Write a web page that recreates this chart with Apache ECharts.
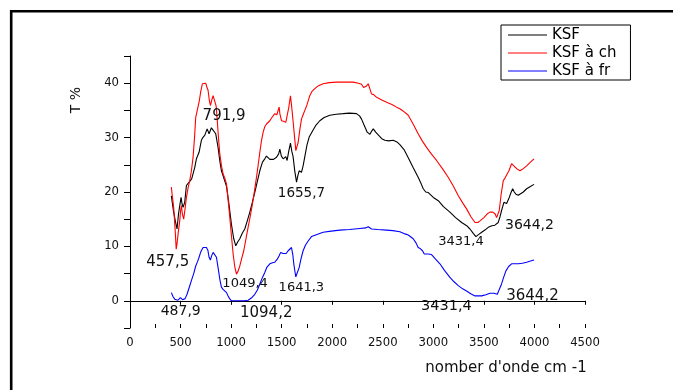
<!DOCTYPE html>
<html>
<head>
<meta charset="utf-8">
<script src="https://cdn.jsdelivr.net/npm/echarts@6/dist/echarts.min.js"></script>
<style>
  html, body { margin: 0; padding: 0; background: #fff; }
  #chart { width: 673px; height: 390px; }
</style>
</head>
<body>
<div id="chart"></div>
<script>
// FTIR transmittance spectra of KSF clay samples (wavenumber in cm-1, T in %)
const ksfWave = [409,430,450,465,480,492,505,515,525,541,558,575,591,610,624,640,657,683,706,720,739,763,782,805,822,848,871,890,904,920,937,955,970,985,1003,1025,1046,1065,1086,1110,1135,1160,1185,1210,1234,1260,1284,1310,1333,1350,1366,1383,1399,1420,1449,1470,1482,1497,1515,1530,1541,1554,1570,1587,1600,1613,1630,1647,1660,1673,1696,1712,1729,1750,1772,1811,1840,1877,1920,1976,2040,2108,2170,2240,2270,2290,2315,2346,2373,2390,2406,2430,2455,2490,2521,2560,2603,2640,2669,2710,2752,2800,2850,2880,2900,2925,2950,3000,3049,3100,3164,3220,3280,3330,3362,3395,3421,3450,3478,3510,3543,3580,3609,3642,3660,3675,3698,3712,3725,3751,3770,3785,3800,3817,3840,3857,3890,3923,3960,3996];
const ksfT = [19.3,16.5,14.5,13.2,16.0,17.5,19.0,17.8,17.2,18.1,21.2,21.6,21.8,22.4,22.7,24.5,26.1,27.3,29.5,30.0,30.4,31.6,30.7,31.8,32.0,30.7,28.2,25.5,23.9,23.0,22.7,21.0,19.0,16.8,14.1,11.5,10.1,10.8,11.4,12.4,13.2,14.7,16.3,18.1,19.9,22.0,23.9,25.5,26.1,26.6,26.7,26.0,25.8,26.0,26.4,27.0,27.9,26.6,26.1,26.4,26.5,25.8,27.5,29.0,27.5,26.5,23.8,21.8,23.0,23.9,23.6,24.8,26.5,28.6,30.1,31.4,32.3,33.1,33.7,34.1,34.3,34.4,34.5,34.4,34.0,33.4,32.3,31.0,30.6,31.2,31.6,31.0,30.5,29.8,29.5,29.4,29.5,29.2,28.7,27.8,26.3,24.5,22.7,21.5,20.6,20.0,19.9,19.0,18.4,17.3,16.3,15.3,14.4,13.8,13.2,12.4,11.8,12.2,12.6,13.0,13.5,13.8,13.9,14.4,15.5,16.6,18.1,17.9,17.9,19.0,20.0,20.6,20.0,19.6,19.4,19.5,20.0,20.6,21.0,21.4];

const chWave = [409,420,432,445,457,465,480,492,500,508,518,531,545,558,575,591,608,624,638,650,665,683,700,716,735,749,760,772,785,795,810,822,841,852,861,875,888,905,921,937,954,970,987,1003,1020,1036,1053,1070,1086,1105,1125,1146,1168,1190,1211,1231,1251,1268,1284,1300,1317,1333,1350,1366,1383,1400,1432,1452,1465,1475,1482,1498,1508,1520,1531,1541,1554,1570,1587,1600,1613,1628,1640,1663,1680,1696,1712,1729,1750,1778,1800,1828,1860,1910,1970,2042,2120,2207,2260,2290,2310,2323,2340,2356,2372,2389,2410,2439,2490,2538,2590,2637,2669,2700,2752,2800,2850,2890,2933,2980,3032,3090,3147,3200,3247,3290,3329,3370,3412,3440,3461,3500,3534,3560,3587,3610,3626,3640,3652,3670,3692,3710,3725,3750,3774,3790,3807,3830,3857,3890,3923,3960,3996];
const chT = [20.9,19.0,17.2,13.5,9.5,10.5,13.0,14.7,16.5,17.5,16.0,15.0,17.0,19.0,20.8,22.1,24.0,26.4,30.0,33.7,35.0,36.5,38.5,39.9,40.2,40.0,39.3,38.7,36.8,35.9,37.0,37.7,37.4,35.8,33.7,30.0,27.0,24.8,23.3,22.6,21.5,18.6,15.3,12.0,8.6,6.3,4.9,5.5,6.4,7.8,9.2,11.3,13.5,15.6,17.8,20.2,22.7,25.0,27.3,29.4,31.0,32.0,32.5,32.4,33.1,33.6,34.4,34.2,34.5,35.6,34.4,33.1,32.8,33.0,33.1,32.8,32.8,35.5,37.7,35.5,33.0,30.0,27.6,29.1,31.5,33.4,34.2,35.0,36.0,37.7,38.5,39.0,39.5,39.9,40.1,40.2,40.2,40.2,40.0,39.8,39.2,39.0,39.5,39.9,39.0,38.0,37.9,37.4,36.9,36.5,36.1,35.6,35.3,34.9,34.1,32.5,30.7,29.4,28.2,27.0,25.8,24.3,22.7,21.0,19.3,18.0,16.9,15.5,14.4,14.4,14.7,15.3,16.0,16.3,16.3,16.0,15.3,15.6,16.6,19.5,22.1,22.6,22.4,24.0,25.2,25.1,24.6,24.2,23.9,24.3,24.8,25.5,26.1];

const frWave = [409,425,442,460,475,488,498,510,520,531,545,564,585,607,630,650,668,683,700,723,740,756,770,782,795,808,822,841,855,871,888,904,920,937,955,970,985,1003,1040,1086,1130,1168,1200,1234,1260,1284,1310,1333,1355,1383,1410,1432,1455,1475,1490,1515,1531,1545,1564,1580,1597,1610,1620,1632,1640,1655,1673,1690,1712,1735,1762,1795,1850,1910,1990,2075,2170,2273,2330,2356,2375,2389,2450,2538,2600,2669,2720,2752,2801,2830,2850,2870,2893,2910,2926,2950,2982,3020,3065,3110,3164,3205,3247,3290,3329,3370,3412,3445,3478,3520,3560,3577,3600,3633,3650,3675,3695,3718,3745,3774,3800,3840,3880,3923,3960,3996];
const frT = [1.5,0.8,0.3,0.1,0.1,0.4,0.6,0.5,0.2,0.1,0.4,1.2,2.4,3.7,5.0,6.4,7.2,8.0,9.0,9.8,9.9,9.8,9.3,8.0,7.5,8.3,8.9,8.9,8.0,6.1,4.0,2.5,2.1,1.9,1.5,0.9,0.4,0.0,0.0,0.0,0.0,0.1,0.5,1.2,2.0,3.1,4.3,5.2,6.2,6.8,7.0,7.1,7.6,8.3,8.9,8.7,8.9,8.7,9.2,9.3,9.8,8.5,6.8,5.3,4.4,5.2,6.1,7.6,9.2,10.2,11.0,11.8,12.2,12.6,12.8,13.0,13.1,13.3,13.4,13.6,13.3,13.2,13.1,13.0,12.9,12.7,12.3,12.1,11.4,10.6,9.8,9.6,9.2,8.6,8.5,8.6,8.5,7.7,6.8,5.6,4.3,3.5,2.8,2.2,1.8,1.3,0.9,0.9,0.9,1.1,1.4,1.5,1.4,1.2,2.0,3.1,4.3,5.5,6.3,6.8,6.8,6.8,6.9,7.1,7.3,7.5];

// Band positions annotated on each spectrum, with the transmittance at that band
const ksfBandWave = [791.9, 1655.7, 3431.4, 3644.2];
const ksfBandT = [30.8, 21.8, 11.8, 14.4];
const chBandWave = [457.5, 1049.4];
const chBandT = [9.5, 4.9];
const frBandWave = [487.9, 1094.2, 1641.3, 3431.4, 3644.2];
const frBandT = [0.4, 0.0, 4.4, 0.9, 1.2];

const seriesNames = ['KSF', 'KSF à ch', 'KSF à fr'];
const xTicks = { min: 0, max: 4500, step: 500 };
const yTicks = { min: -5, max: 45, step: 5 };

// Label placement next to each band (pixel offsets and font sizes)
const ksfBandStyle = [[14, -17, 15], [4, 11, 13.5], [-16, 5.5, 13], [31, 3, 14]];
const chBandStyle = [[-8.5, 13, 15], [9, 9, 13]];
const frBandStyle = [[1.4, 12.4, 14], [25.6, 12.2, 15], [5.4, 11, 13], [-30.5, 10, 14.5], [34, 2, 15]];

const FONT = '"DejaVu Sans", Verdana, sans-serif';

function pairs(xs, ys) { return xs.map((x, i) => [x, ys[i]]); }
function bands(ws, ts, st) {
  return ws.map((w, i) => ({
    coord: [w, ts[i]],
    value: w,
    label: { offset: [st[i][0], st[i][1]], fontSize: st[i][2] }
  }));
}
function bandMarks(ws, ts, st) {
  return {
    symbol: 'circle', symbolSize: 0, silent: true,
    itemStyle: { color: 'rgba(0,0,0,0)' },
    label: {
      show: true, position: 'inside', color: '#111', fontFamily: FONT,
      formatter: p => String(p.value).replace('.', ',')
    },
    data: bands(ws, ts, st)
  };
}
function spectrum(name, color, xs, ys, marks) {
  return {
    name: name, type: 'line', data: pairs(xs, ys),
    showSymbol: false, symbol: 'none', smooth: false,
    lineStyle: { color: color, width: 1.1 },
    itemStyle: { color: color },
    markPoint: marks
  };
}

const chart = echarts.init(document.getElementById('chart'), null, { renderer: 'canvas' });
const gridBox = { left: 130, top: 56, width: 455, height: 272 };

chart.setOption({
  animation: false,
  backgroundColor: '#fff',
  grid: gridBox,
  legend: {
    data: seriesNames,
    orient: 'vertical',
    left: 501, top: 25,
    padding: [1, 14, 0, 7],
    itemGap: 0,
    itemWidth: 39, itemHeight: 1,
    icon: 'rect',
    borderColor: '#000', borderWidth: 1,
    textStyle: { fontFamily: FONT, fontSize: 15, color: '#000', lineHeight: 18 }
  },
  xAxis: [
    {
      type: 'value', position: 'bottom',
      min: xTicks.min, max: xTicks.max, interval: xTicks.step,
      axisLine: { show: true, lineStyle: { color: '#000', width: 1 } },
      axisTick: { show: true, inside: false, length: 4, lineStyle: { color: '#000' } },
      axisLabel: { show: true, margin: 9, color: '#111', fontFamily: FONT, fontSize: 11.7, formatter: v => String(v) },
      splitLine: { show: false }
    },
    {
      // half-step ticks rising from the bottom axis line
      type: 'value', position: 'top', offset: -gridBox.height,
      min: xTicks.min, max: xTicks.max, interval: xTicks.step / 2,
      axisLine: { show: false },
      axisTick: { show: true, inside: false, length: 4, lineStyle: { color: '#000' } },
      axisLabel: { show: false },
      splitLine: { show: false }
    }
  ],
  yAxis: {
    type: 'value',
    min: yTicks.min, max: yTicks.max, interval: yTicks.step,
    axisLine: { show: true, lineStyle: { color: '#000', width: 1 } },
    axisTick: { show: true, inside: false, length: 6, lineStyle: { color: '#000' } },
    axisLabel: {
      margin: 11, color: '#111', fontFamily: FONT, fontSize: 11.7,
      formatter: v => (v % 10 === 0 && v >= 0 && v <= 40) ? String(v) : ''
    },
    splitLine: { show: false }
  },
  graphic: [
    {
      type: 'rect', silent: true,
      shape: { x: 11.2, y: 11.2, width: 900, height: 700 },
      style: { fill: 'none', stroke: '#000', lineWidth: 2.6 }
    },
    {
      type: 'text', x: 76, y: 100, rotation: Math.PI / 2,
      style: { text: 'T %', fill: '#111', font: '14px ' + FONT, align: 'center', verticalAlign: 'middle' }
    },
    {
      type: 'text', x: 506, y: 368,
      style: { text: "nomber d'onde cm -1", fill: '#111', font: '15px ' + FONT, align: 'center', verticalAlign: 'middle' }
    }
  ],
  series: [
    spectrum(seriesNames[0], '#000000', ksfWave, ksfT, bandMarks(ksfBandWave, ksfBandT, ksfBandStyle)),
    spectrum(seriesNames[1], '#ff0000', chWave, chT, bandMarks(chBandWave, chBandT, chBandStyle)),
    spectrum(seriesNames[2], '#0000ff', frWave, frT, bandMarks(frBandWave, frBandT, frBandStyle))
  ]
});
</script>
</body>
</html>
